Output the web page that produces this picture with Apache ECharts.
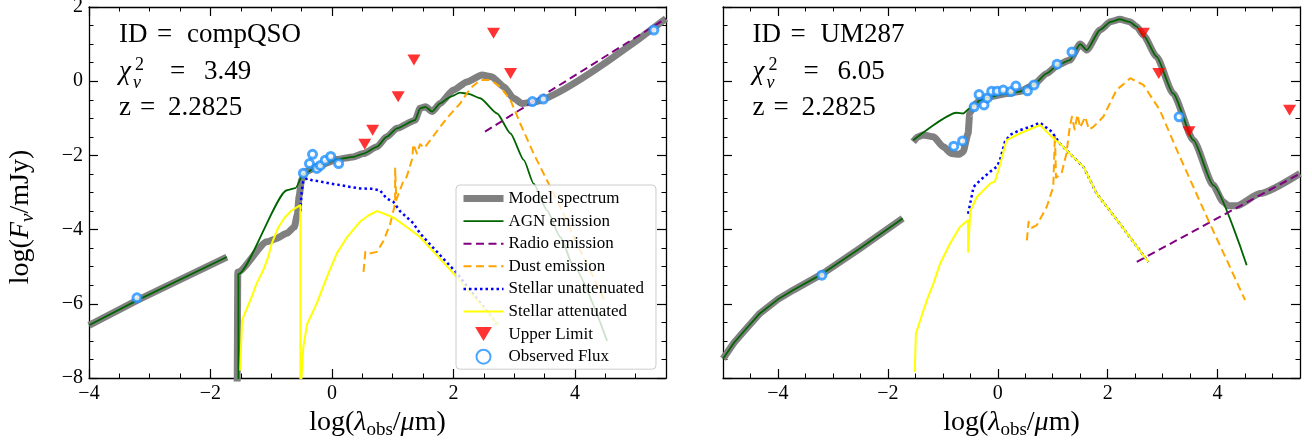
<!DOCTYPE html>
<html>
<head>
<meta charset="utf-8">
<script src="https://cdn.jsdelivr.net/npm/echarts@6/dist/echarts.min.js"></script>
<style>
html, body { margin: 0; padding: 0; background: #fff; }
#main { width: 1312px; height: 448px; }
</style>
</head>
<body>
<div id="main"></div>
<script>
// ---- data (log lambda_obs [um], log F_nu [mJy]) ----
var leftModelA = [[-4, -6.58], [-3.2, -5.9], [-1.73, -4.74]];
var leftModelB = [[-1.56, -8.2], [-1.55, -5.15], [-1.07, -4.33], [-0.93, -4.25], [-0.74, -4.1], [-0.62, -3.93],
  [-0.57, -3.6], [-0.54, -3.1], [-0.5, -2.65], [-0.44, -2.44], [-0.19, -2.26], [0.08, -2.11], [0.35, -2.04],
  [0.52, -1.95], [0.74, -1.77], [0.9, -1.5], [1.07, -1.27], [1.37, -1.05], [1.45, -0.73], [1.54, -0.69],
  [1.65, -0.82], [1.78, -0.6], [2.0, -0.24], [2.22, -0.02], [2.47, 0.17], [2.63, 0.12], [2.83, -0.15],
  [2.99, -0.46], [3.13, -0.6], [3.29, -0.57], [5.5, 1.69]];
var leftAgnB = [[-1.54, -8.2], [-1.54, -5.2], [-0.74, -2.94], [-0.6, -2.88], [-0.47, -2.5], [-0.19, -2.26],
  [0.08, -2.11], [0.35, -2.04], [0.52, -1.95], [0.74, -1.77], [0.9, -1.5], [1.07, -1.27], [1.37, -1.05],
  [1.45, -0.73], [1.54, -0.69], [1.65, -0.82], [1.78, -0.6], [1.95, -0.42], [2.11, -0.31], [2.25, -0.34],
  [2.44, -0.46], [2.72, -0.87], [2.94, -1.41], [3.16, -2.13], [3.32, -2.76], [3.54, -3.48], [3.76, -4.2],
  [3.98, -5.0], [4.53, -7.0]];
var leftRadio = [[2.52, -1.36], [5.5, 1.69]];
var leftDust = [[0.52, -5.14], [0.55, -4.6], [0.6, -4.65], [0.74, -4.6], [0.85, -4.3], [0.96, -3.84],
  [1.04, -3.3], [1.04, -2.35], [1.06, -3.2], [1.18, -2.67], [1.23, -2.58], [1.32, -2.1], [1.34, -1.7],
  [1.4, -1.95], [1.45, -1.7], [1.52, -1.8], [1.62, -1.59], [1.7, -1.41], [1.89, -1.0], [2.11, -0.6],
  [2.28, -0.19], [2.44, 0.03], [2.61, 0.03], [2.77, -0.15], [2.94, -0.51], [3.1, -1.14], [3.32, -1.95],
  [3.54, -2.67], [3.76, -3.39], [3.98, -4.2], [4.25, -5.1], [4.5, -5.95]];
var leftStellarUnatt = [[-0.52, -3.5], [-0.5, -3.0], [-0.47, -2.67], [-0.4, -2.62], [-0.33, -2.67], [-0.2, -2.7],
  [-0.03, -2.76], [0.14, -2.8], [0.3, -2.85], [0.46, -2.89], [0.65, -2.9], [0.79, -2.94], [0.9, -3.16],
  [1.01, -3.25], [1.12, -3.5], [1.34, -3.83], [1.45, -4.1], [1.7, -4.55], [2.06, -5.18], [2.4, -5.9], [2.74, -6.58]];
var leftStellarAtt = [[-1.51, -7.8], [-1.48, -6.44], [-1.32, -5.81], [-1.24, -5.45], [-1.13, -5.09], [-1.05, -4.74],
  [-0.99, -4.37], [-0.88, -3.93], [-0.77, -3.66], [-0.66, -3.48], [-0.52, -3.34], [-0.52, -8.5], [-0.5, -8.5],
  [-0.47, -7.16], [-0.41, -6.55], [-0.25, -5.99], [-0.08, -5.27], [0.08, -4.64], [0.25, -4.2], [0.46, -3.79],
  [0.6, -3.62], [0.74, -3.5], [0.82, -3.55], [0.9, -3.6], [1.01, -3.67], [1.23, -3.93], [1.45, -4.2],
  [2.0, -5.18], [2.74, -6.58]];
var leftUpper = [[0.54, -1.70], [0.67, -1.32], [1.09, -0.42], [1.35, 0.57], [2.66, 1.29], [2.94, 0.21]];
var leftObserved = [[-3.21, -5.84], [-0.47, -2.48], [-0.37, -2.22], [-0.32, -1.97], [-0.25, -2.35], [-0.19, -2.27],
  [-0.11, -2.13], [-0.02, -2.03], [0.11, -2.22], [3.3, -0.55], [3.48, -0.48], [5.3, 1.38]];

var rightModelA = [[-5, -7.48], [-4.8, -7.05], [-4.63, -6.76], [-4.33, -6.26], [-4.0, -5.88], [-3.72, -5.63],
  [-3.2, -5.2], [-2.51, -4.51], [-1.73, -3.7]];
var rightModelB = [[-1.54, -1.63], [-1.45, -1.5], [-1.36, -1.45], [-1.17, -1.5], [-0.99, -1.77], [-0.84, -1.95],
  [-0.7, -1.97], [-0.63, -1.9], [-0.54, -1.41], [-0.51, -0.87], [-0.44, -0.66], [-0.32, -0.51], [-0.14, -0.42],
  [0.16, -0.33], [0.4, -0.28], [0.65, -0.1], [0.89, 0.21], [1.1, 0.44], [1.31, 0.57], [1.5, 1.0], [1.62, 0.84],
  [1.86, 1.38], [2.05, 1.6], [2.22, 1.67], [2.4, 1.6], [2.53, 1.47], [2.65, 1.24], [2.89, 0.66], [3.19, -0.33],
  [3.56, -1.59], [3.92, -2.8], [4.1, -3.25], [4.2, -3.36], [4.35, -3.36], [4.77, -3.03], [5.5, -2.49]];
var rightAgnB = [[-1.54, -1.59], [-0.75, -0.85], [-0.63, -0.87], [-0.51, -0.73], [-0.44, -0.66], [-0.32, -0.51],
  [-0.14, -0.42], [0.16, -0.33], [0.4, -0.28], [0.65, -0.1], [0.89, 0.21], [1.1, 0.44], [1.31, 0.57], [1.5, 1.0],
  [1.62, 0.84], [1.86, 1.38], [2.05, 1.6], [2.22, 1.67], [2.4, 1.6], [2.53, 1.47], [2.65, 1.24], [2.89, 0.66],
  [3.19, -0.33], [3.56, -1.59], [3.92, -2.8], [4.53, -4.96]];
var rightRadio = [[2.53, -4.87], [5.5, -2.49]];
var rightDust = [[0.53, -4.29], [0.56, -3.79], [0.62, -3.95], [0.71, -3.88], [0.89, -3.39], [1.01, -2.85],
  [1.04, -1.45], [1.06, -2.6], [1.16, -2.49], [1.25, -1.95], [1.31, -1.23], [1.35, -0.96], [1.4, -1.3],
  [1.45, -0.9], [1.5, -1.25], [1.59, -0.96], [1.66, -1.3], [1.74, -1.23], [1.92, -0.96], [2.16, -0.24],
  [2.41, 0.08], [2.65, -0.1], [2.95, -0.78], [3.26, -1.86], [3.56, -2.85], [3.86, -3.84], [4.17, -4.83], [4.5, -5.9]];
var rightStellarUnatt = [[-0.54, -3.57], [-0.44, -2.85], [-0.32, -2.67], [-0.14, -2.44], [-0.02, -2.31],
  [0.04, -2.13], [0.13, -1.63], [0.22, -1.45], [0.4, -1.32], [0.59, -1.23], [0.77, -1.12], [0.98, -1.36],
  [1.13, -1.68], [1.31, -1.95], [1.56, -2.31], [1.8, -3.03], [2.22, -3.84], [2.74, -4.87]];
var rightStellarAtt = [[-1.51, -7.84], [-1.49, -6.8], [-1.29, -5.9], [-1.17, -5.45], [-1.05, -4.92], [-0.87, -4.38],
  [-0.69, -3.93], [-0.54, -3.75], [-0.54, -4.6], [-0.5, -3.5], [-0.38, -3.12], [-0.14, -2.76], [-0.05, -2.7],
  [0.04, -2.26], [0.16, -1.59], [0.4, -1.41], [0.77, -1.18], [1.01, -1.54], [1.13, -1.68], [1.31, -1.95],
  [1.56, -2.31], [1.8, -3.03], [2.22, -3.84], [2.74, -4.87]];
var rightUpper = [[2.65, 1.29], [2.93, 0.21], [3.48, -1.36], [5.31, -0.78]];
var rightObserved = [[-3.2, -5.23], [-0.8, -1.75], [-0.64, -1.61], [-0.43, -0.69], [-0.34, -0.36], [-0.25, -0.64],
  [-0.19, -0.45], [-0.11, -0.27], [-0.01, -0.27], [0.1, -0.24], [0.24, -0.28], [0.33, -0.13], [0.54, -0.26],
  [0.66, -0.1], [1.08, 0.46], [1.35, 0.79], [3.3, -0.96]];

var leftXMajor = [-4, -2, 0, 2, 4];
var leftXMinor = [-3.5, -3, -2.5, -1.5, -1, -0.5, 0.5, 1, 1.5, 2.5, 3, 3.5, 4.5, 5];
var rightXMajor = [-4, -2, 0, 2, 4];
var rightXMinor = [-4.5, -3.5, -3, -2.5, -1.5, -1, -0.5, 0.5, 1, 1.5, 2.5, 3, 3.5, 4.5, 5];
var yMajor = [-8, -6, -4, -2, 0, 2];
var yMinor = [-7.5, -7, -6.5, -5.5, -5, -4.5, -3.5, -3, -2.5, -1.5, -1, -0.5, 0.5, 1, 1.5];

var lineNames = ['Model spectrum', 'AGN emission', 'Radio emission', 'Dust emission',
  'Stellar unattenuated', 'Stellar attenuated'];
var markerNames = ['Upper Limit', 'Observed Flux'];

// ---- styling ----
var SERIF = 'Liberation Serif';
var GRAY = '#808080', GREEN = '#006400', PURPLE = '#800080', ORANGE = '#FFA500',
    BLUE = '#0000FF', YELLOW = '#FFFF00', RED = '#FF0000', OBS = '#1E90FF';
var TRI = 'path://M0,0 L12,0 L6,10 Z';

function fmt(v) { return (v < 0 ? '\u2212' : '') + Math.abs(v); }

function axesFor(g, min, max, major, minor, sides, showLabels) {
  var out = [];
  sides.forEach(function (p, k) {
    out.push({
      gridIndex: g, type: 'value', min: min, max: max, position: p,
      axisLine: { show: true, onZero: false, lineStyle: { color: '#000', width: 1.3 } },
      axisTick: { show: true, inside: true, length: 9, customValues: major, lineStyle: { color: '#000', width: 1.2 } },
      axisLabel: { show: showLabels && k === 0, customValues: major, margin: 6, formatter: fmt,
        color: '#000', fontFamily: SERIF, fontSize: 20 },
      splitLine: { show: false }
    });
    out.push({
      gridIndex: g, type: 'value', min: min, max: max, position: p,
      axisLine: { show: false, onZero: false },
      axisTick: { show: true, inside: true, length: 4.5, customValues: minor, lineStyle: { color: '#000', width: 1 } },
      axisLabel: { show: false },
      splitLine: { show: false }
    });
  });
  return out;
}

function line(name, data, g, color, width, dash, smooth) {
  return {
    type: 'line', name: name, data: data, xAxisIndex: 4 * g, yAxisIndex: 4 * g,
    symbol: 'none', showSymbol: false, silent: true, clip: true,
    smooth: smooth || false, smoothMonotone: 'x',
    lineStyle: { color: color, width: width, type: dash || 'solid', cap: 'butt', join: 'round' },
    itemStyle: { color: color }, emphasis: { disabled: true }
  };
}

function scatter(name, data, g, symbol, size, style) {
  return {
    type: 'scatter', name: name, data: data, xAxisIndex: 4 * g, yAxisIndex: 4 * g,
    symbol: symbol, symbolSize: size, itemStyle: style, silent: true, z: 3, emphasis: { disabled: true }
  };
}

function panelSeries(g, d) {
  return [
    line('Model spectrum', d.modelA, g, GRAY, 7),
    line('Model spectrum', d.modelB, g, GRAY, 7, null, 0.2),
    line('AGN emission', d.modelA, g, GREEN, 1.8),
    line('AGN emission', d.agnB, g, GREEN, 1.8, null, 0.2),
    line('Radio emission', d.radio, g, PURPLE, 2, [8, 4.5]),
    line('Dust emission', d.dust, g, ORANGE, 2, [8, 4.5]),
    line('Stellar unattenuated', d.unatt, g, BLUE, 2.5, [2.5, 3]),
    line('Stellar attenuated', d.att, g, YELLOW, 2),
    scatter('Upper Limit', d.upper, g, TRI, [13, 11], { color: RED }),
    scatter('Observed Flux', d.obs, g, 'circle', 8, { color: '#fff', borderColor: OBS, borderWidth: 3 })
  ];
}

// ---- text helpers (pieces laid out by measured width) ----
var mctx = document.createElement('canvas').getContext('2d');
function txt(text, x, y, size, italic) {
  return { type: 'text', x: x, y: y, silent: true,
    style: { text: text, fill: '#000', fontFamily: SERIF, fontSize: size, fontStyle: italic ? 'italic' : 'normal',
      align: 'left', verticalAlign: 'middle' } };
}
function runLabel(pieces, cx, cy, rotation) {
  var total = 0, ws = [];
  pieces.forEach(function (p) {
    mctx.font = (p[2] ? 'italic ' : '') + p[1] + 'px "' + SERIF + '"';
    var w = mctx.measureText(p[0]).width; ws.push(w); total += w;
  });
  var x = -total / 2, kids = [];
  pieces.forEach(function (p, i) { kids.push(txt(p[0], x, p[3] || 0, p[1], p[2])); x += ws[i]; });
  return { type: 'group', x: cx, y: cy, rotation: rotation || 0, children: kids };
}
function statsBlock(x0, id, chi) {
  return [
    txt('ID', x0, 35, 27), txt('=', x0 + 38, 35, 27), txt(id, x0 + 68, 35, 27),
    txt('\u03C7', x0, 72, 27, true), txt('2', x0 + 16, 65, 18), txt('\u03BD', x0 + 14, 83, 18, true),
    txt('=', x0 + 51, 72, 27), txt(chi, x0 + 85, 72, 27),
    txt('z', x0, 108, 27), txt('=', x0 + 21, 108, 27), txt('2.2825', x0 + 49, 108, 27)
  ];
}

var chart = echarts.init(document.getElementById('main'), null, { renderer: 'canvas' });

var xAxes = axesFor(0, -4, 5.5, leftXMajor, leftXMinor, ['bottom', 'top'], true)
  .concat(axesFor(1, -5, 5.5, rightXMajor, rightXMinor, ['bottom', 'top'], true));
var yAxes = axesFor(0, -8, 2, yMajor, yMinor, ['left', 'right'], true)
  .concat(axesFor(1, -8, 2, yMajor, yMinor, ['left', 'right'], false));

var series = panelSeries(0, { modelA: leftModelA, modelB: leftModelB, agnB: leftAgnB, radio: leftRadio,
  dust: leftDust, unatt: leftStellarUnatt, att: leftStellarAtt, upper: leftUpper, obs: leftObserved })
  .concat(panelSeries(1, { modelA: rightModelA, modelB: rightModelB, agnB: rightAgnB, radio: rightRadio,
  dust: rightDust, unatt: rightStellarUnatt, att: rightStellarAtt, upper: rightUpper, obs: rightObserved }));

var xTitle = [['log(', 28], ['\u03BB', 28, true], ['obs', 19, false, 7], ['/', 28], ['\u03BC', 28, true], ['m)', 28]];
var yTitle = [['log(', 28], ['F', 28, true], ['\u03BD', 19, true, 7], ['/mJy)', 28]];

var graphics = statsBlock(119, 'compQSO', '3.49')
  .concat(statsBlock(752.5, 'UM287', '6.05'))
  .concat([
    runLabel(xTitle, 377.5, 423),
    runLabel(xTitle, 1011.5, 423),
    runLabel(yTitle, 21, 217, Math.PI / 2)
  ]);

// line entries: keep the series line in the icon, hide the symbol ECharts puts in its middle
var legendData = lineNames.map(function (n) { return { name: n, itemStyle: { opacity: 0 } }; })
  .concat(markerNames.map(function (n) { return { name: n }; }));

var option = {
  animation: false,
  backgroundColor: '#fff',
  grid: [
    { left: 89, top: 7, width: 577, height: 371, outerBoundsMode: 'none' },
    { left: 723, top: 7, width: 577, height: 371, outerBoundsMode: 'none' }
  ],
  xAxis: xAxes,
  yAxis: yAxes,
  legend: {
    show: true, orient: 'vertical', left: 456, top: 185,
    itemWidth: 40, itemHeight: 14, itemGap: 5.6,
    padding: [5, 12, 4, 4],
    backgroundColor: 'rgba(255,255,255,0.8)', borderColor: '#cccccc', borderWidth: 1, borderRadius: 4,
    textStyle: { fontFamily: SERIF, fontSize: 17, color: '#000' },
    lineStyle: { width: 'inherit' },
    selectedMode: false,
    data: legendData
  },
  series: series,
  graphic: graphics
};

chart.setOption(option);
</script>
</body>
</html>
